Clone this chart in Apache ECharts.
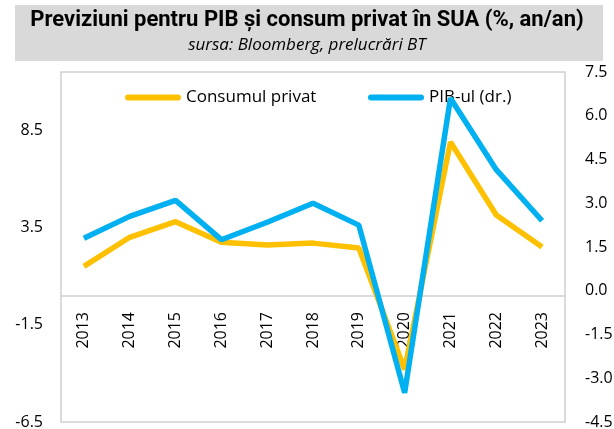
<!DOCTYPE html>
<html>
<head>
<meta charset="utf-8">
<script src="https://cdn.jsdelivr.net/npm/echarts@6/dist/echarts.min.js"></script>
<style>
  html, body { margin: 0; padding: 0; background: #fff; }
  #main { width: 614px; height: 429px; }
</style>
</head>
<body>
<div id="main"></div>
<script>
// data
var years = ['2013', '2014', '2015', '2016', '2017', '2018', '2019', '2020', '2021', '2022', '2023'];
var consum = [1.5, 3.0, 3.8, 2.75, 2.6, 2.7, 2.45, -3.8, 7.9, 4.15, 2.5];   // left axis
var pib = [1.8, 2.55, 3.1, 1.75, 2.35, 3.0, 2.25, -3.5, 6.6, 4.15, 2.4];     // right axis (dr.)

var chart = echarts.init(document.getElementById('main'));
var labelFont = { color: '#000', fontSize: 16, fontFamily: 'Open Sans' };
var capsule = 'path://M3,0 L53,0 A3,3 0 0 1 53,6 L3,6 A3,3 0 0 1 3,0 Z';

chart.setOption({
  animation: false,
  backgroundColor: '#fff',
  graphic: [
    { type: 'rect', shape: { x: 15, y: 5, width: 588, height: 56 }, style: { fill: '#d9d9d9' }, z: -1 },
    { type: 'text', left: 'center', top: 9,
      style: { text: 'Previziuni pentru PIB și consum privat în SUA (%, an/an)', fill: '#000',
               font: 'bold 22px Roboto' } },
    { type: 'text', left: 'center', top: 37,
      style: { text: 'sursa: Bloomberg, prelucrări BT', fill: '#000',
               font: 'italic 17px "Open Sans"' } }
  ],
  legend: [
    { data: [{ name: 'Consumul privat', icon: capsule }], left: 120, top: 84, itemWidth: 56, itemHeight: 6, itemGap: 4,
      textStyle: { color: '#000', fontSize: 17, fontFamily: 'Open Sans' } },
    { data: [{ name: 'PIB-ul (dr.)', icon: capsule }], left: 363, top: 84, itemWidth: 56, itemHeight: 6, itemGap: 4,
      textStyle: { color: '#000', fontSize: 17, fontFamily: 'Open Sans' } }
  ],
  grid: { left: 61, right: 49, top: 72, bottom: 7, outerBoundsMode: 'none',
          show: true, borderColor: '#d0d0d0', borderWidth: 1.5 },
  xAxis: {
    type: 'category',
    data: years,
    z: 0,
    axisLine: { onZero: true, lineStyle: { color: '#d0d0d0', width: 1.5 } },
    axisTick: { show: false },
    axisLabel: Object.assign({ rotate: 90, margin: -110 }, labelFont)
  },
  yAxis: [
    { type: 'value', min: -6.5, max: 11.5, interval: 5,
      axisLine: { show: false }, axisTick: { show: false }, splitLine: { show: false },
      axisLabel: Object.assign({ margin: 18, showMaxLabel: false }, labelFont) },
    { type: 'value', min: -4.5, max: 7.5, interval: 1.5,
      axisLine: { show: false }, axisTick: { show: false }, splitLine: { show: false },
      axisLabel: Object.assign({ margin: 20, formatter: function (v) { return v.toFixed(1); } }, labelFont) }
  ],
  series: [
    { name: 'Consumul privat', type: 'line', yAxisIndex: 0, data: consum, symbol: 'none', z: 5,
      color: '#ffc000', lineStyle: { width: 5.5, color: '#ffc000' } },
    { name: 'PIB-ul (dr.)', type: 'line', yAxisIndex: 1, data: pib, symbol: 'none', z: 6,
      color: '#00b0f0', lineStyle: { width: 5.5, color: '#00b0f0' } }
  ]
});
</script>
</body>
</html>
